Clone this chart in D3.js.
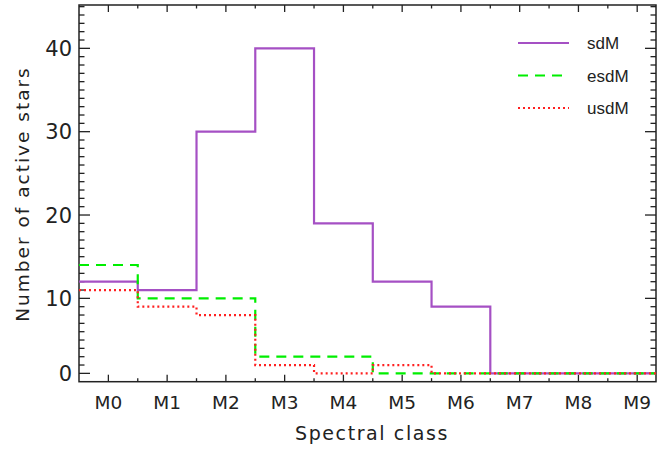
<!DOCTYPE html>
<html lang="en">
<head>
<meta charset="utf-8">
<title>Active stars</title>
<script src="https://d3js.org/d3.v7.min.js"></script>
<style>
  body { margin: 0; background: #fff; }
</style>
</head>
<body>
<script type="text/javascript">

// spectral classes
var classes = ["M0", "M1", "M2", "M3", "M4", "M5", "M6", "M7", "M8", "M9"];

// counts per class (empty bins sit on the lowest labelled tick)
var sdM  = [12, 11, 30, 40, 19, 12, 9, 1, 1, 1];
var esdM = [14, 10, 10, 3, 3, 1, 1, 1, 1, 1];
var usdM = [11, 9, 8, 2, 1, 2, 1, 1, 1, 1];

// y ticks as printed on the figure
var yTickValues = [1, 10, 20, 30, 40];
var yTickLabels = ["0", "10", "20", "30", "40"];

var width = 657,
    height = 449;

//plot box (note: "top" is taken by window.top)
var pLeft = 79, pRight = 656, pTop = 5, pBottom = 381.7;

var svg = d3.select("body").append("svg")
    .attr("width", width)
    .attr("height", height);

var x = d3.scaleLinear()
    .domain([-0.5, 9.32])
    .range([pLeft, pRight]);

var y = d3.scaleLinear()
    .domain([0, 45.2])
    .range([pBottom, pTop]);

//clip for the step lines
svg.append("clipPath").attr("id", "plotclip")
  .append("rect")
    .attr("x", pLeft).attr("y", pTop)
    .attr("width", pRight - pLeft).attr("height", pBottom - pTop);

//frame
svg.append("rect")
    .attr("x", pLeft).attr("y", pTop)
    .attr("width", pRight - pLeft).attr("height", pBottom - pTop)
    .attr("fill", "none")
    .attr("stroke", "#222")
    .attr("stroke-width", 1.5);

//ticks: x majors at classes, minors at bin edges
var xMajor = d3.range(classes.length),
    xMinor = d3.range(classes.length).map(function(d){ return d + 0.5; }).filter(function(d){ return x(d) < pRight; });
var yMajor = yTickValues,
    yMinor = d3.range(0, 46).filter(function(d){ return yMajor.indexOf(d) < 0 && y(d) > pTop && y(d) < pBottom; });

var ticks = svg.append("g").attr("stroke", "#222").attr("stroke-width", 1.3);

xMajor.forEach(function(d){
  ticks.append("line").attr("x1", x(d)).attr("x2", x(d)).attr("y1", pBottom).attr("y2", pBottom - 7);
  ticks.append("line").attr("x1", x(d)).attr("x2", x(d)).attr("y1", pTop).attr("y2", pTop + 7);
});
xMinor.forEach(function(d){
  ticks.append("line").attr("x1", x(d)).attr("x2", x(d)).attr("y1", pBottom).attr("y2", pBottom - 3.5);
  ticks.append("line").attr("x1", x(d)).attr("x2", x(d)).attr("y1", pTop).attr("y2", pTop + 3.5);
});
yMajor.forEach(function(d){
  ticks.append("line").attr("x1", pLeft).attr("x2", pLeft + 11).attr("y1", y(d)).attr("y2", y(d));
  ticks.append("line").attr("x1", pRight).attr("x2", pRight - 11).attr("y1", y(d)).attr("y2", y(d));
});
yMinor.forEach(function(d){
  ticks.append("line").attr("x1", pLeft).attr("x2", pLeft + 5.5).attr("y1", y(d)).attr("y2", y(d));
  ticks.append("line").attr("x1", pRight).attr("x2", pRight - 5.5).attr("y1", y(d)).attr("y2", y(d));
});

//tick labels
svg.append("g").selectAll("text")
    .data(classes)
  .enter().append("text")
    .attr("x", function(d, i){ return x(i); })
    .attr("y", 409)
    .attr("text-anchor", "middle")
    .attr("font-family", "DejaVu Sans, sans-serif")
    .attr("font-size", 18.5)
    .attr("fill", "#222")
    .text(function(d){ return d; });

svg.append("g").selectAll("text")
    .data(yTickValues)
  .enter().append("text")
    .attr("x", 72)
    .attr("y", function(d){ return y(d) + 7.5; })
    .attr("text-anchor", "end")
    .attr("font-family", "DejaVu Sans, sans-serif")
    .attr("font-size", 21)
    .attr("fill", "#222")
    .text(function(d, i){ return yTickLabels[i]; });

//axis titles
svg.append("text")
    .attr("x", 372).attr("y", 440)
    .attr("text-anchor", "middle")
    .attr("font-family", "DejaVu Sans, sans-serif")
    .attr("font-size", 19)
    .attr("letter-spacing", 1.6)
    .attr("fill", "#222")
    .text("Spectral class");

svg.append("text")
    .attr("transform", "translate(29,194) rotate(-90)")
    .attr("text-anchor", "middle")
    .attr("font-family", "DejaVu Sans, sans-serif")
    .attr("font-size", 18.5)
    .attr("letter-spacing", 2)
    .attr("fill", "#222")
    .text("Number of active stars");

//histogram steps
var series = [
  {name: "sdM",  vals: sdM,  color: "#a550c4", dash: null},
  {name: "esdM", vals: esdM, color: "#00ee00", dash: "10,7"},
  {name: "usdM", vals: usdM, color: "#ff2020", dash: "2,3"}
];

var line = d3.line()
    .x(function(d){ return x(d[0]); })
    .y(function(d){ return y(d[1]); })
    .curve(d3.curveStepAfter);

series.forEach(function(s){
  var pts = s.vals.map(function(v, i){ return [i - 0.5, v]; });
  pts.push([s.vals.length - 0.5, s.vals[s.vals.length - 1]]);
  svg.append("path")
      .attr("clip-path", "url(#plotclip)")
      .attr("d", line(pts))
      .attr("fill", "none")
      .attr("stroke", s.color)
      .attr("stroke-width", 2.2)
      .attr("stroke-dasharray", s.dash);
});

//legend
var legend = svg.append("g");
series.forEach(function(s, i){
  var ly = 43 + i * 32.5;
  legend.append("line")
      .attr("x1", 518).attr("x2", 569)
      .attr("y1", ly).attr("y2", ly)
      .attr("stroke", s.color)
      .attr("stroke-width", 2.2)
      .attr("stroke-dasharray", s.dash);
  legend.append("text")
      .attr("x", 587).attr("y", ly + 6)
      .attr("font-family", "Liberation Sans, Arial, sans-serif")
      .attr("font-size", 17)
      .attr("fill", "#222")
      .text(s.name);
});

</script>
</body>
</html>
